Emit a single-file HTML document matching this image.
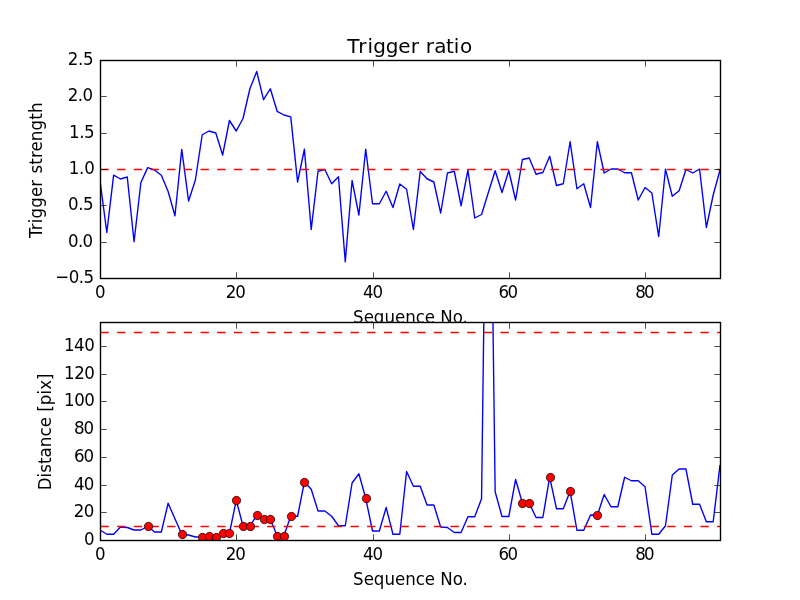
<!DOCTYPE html>
<html lang="en"><head><meta charset="utf-8"><title>Trigger ratio</title>
<style>html,body{margin:0;padding:0;background:#fff;overflow:hidden}svg{display:block}text{font-family:"DejaVu Sans","Liberation Sans",sans-serif;fill:#000}</style>
</head><body>
<svg width="800" height="600" viewBox="0 0 800 600">
<rect x="0" y="0" width="800" height="600" fill="#fff"/>
<defs><clipPath id="ct"><rect x="100.5" y="60.5" width="620.0" height="218.0"/></clipPath><clipPath id="cb"><rect x="100.5" y="322.5" width="620.0" height="218.0"/></clipPath></defs>
<g>
<g clip-path="url(#ct)" fill="none" stroke-linejoin="round">
<polyline points="100.00,180.60 106.81,232.50 113.63,175.20 120.44,179.00 127.25,177.00 134.07,241.75 140.88,182.50 147.69,167.60 154.51,170.00 161.32,175.30 168.13,191.50 174.95,215.75 181.76,149.40 188.57,201.00 195.38,180.00 202.20,134.75 209.01,131.00 215.82,133.00 222.64,155.00 229.45,120.50 236.26,131.00 243.08,118.25 249.89,88.75 256.70,71.50 263.52,99.70 270.33,88.75 277.14,111.30 283.96,115.00 290.77,116.90 297.58,182.00 304.40,149.25 311.21,229.50 318.02,171.25 324.84,169.50 331.65,183.75 338.46,176.75 345.27,261.75 352.09,180.50 358.90,215.00 365.71,149.25 372.53,203.75 379.34,203.75 386.15,191.25 392.97,207.50 399.78,184.00 406.59,189.25 413.41,229.50 420.22,171.50 427.03,178.75 433.85,182.00 440.66,213.00 447.47,173.00 454.29,171.25 461.10,205.75 467.91,170.00 474.73,218.00 481.54,214.50 488.35,192.50 495.16,170.75 501.98,192.50 508.79,170.75 515.60,200.00 522.42,159.50 529.23,158.00 536.04,174.25 542.86,172.50 549.67,156.25 556.48,185.50 563.30,183.75 570.11,141.75 576.92,188.75 583.74,183.75 590.55,207.50 597.36,141.75 604.18,173.00 610.99,169.00 617.80,169.00 624.62,172.75 631.43,172.75 638.24,200.00 645.05,187.50 651.87,193.00 658.68,236.50 665.49,169.25 672.31,196.25 679.12,190.75 685.93,169.50 692.75,173.00 699.56,169.00 706.37,227.50 713.19,195.00 720.00,170.00" stroke="#0000ff" stroke-width="1.389"/>
<line x1="100.5" y1="169.50" x2="720.5" y2="169.50" stroke="#ff0000" stroke-width="1.389" stroke-dasharray="8.333 8.333"/>
</g>
<path d="M100.50 278.5v-6.2M100.50 60.5v6.2M236.50 278.5v-6.2M236.50 60.5v6.2M373.50 278.5v-6.2M373.50 60.5v6.2M509.50 278.5v-6.2M509.50 60.5v6.2M645.50 278.5v-6.2M645.50 60.5v6.2M100.5 278.50h6.2M720.5 278.50h-6.2M100.5 242.50h6.2M720.5 242.50h-6.2M100.5 205.50h6.2M720.5 205.50h-6.2M100.5 169.50h6.2M720.5 169.50h-6.2M100.5 133.50h6.2M720.5 133.50h-6.2M100.5 96.50h6.2M720.5 96.50h-6.2M100.5 60.50h6.2M720.5 60.50h-6.2" stroke="#000" stroke-width="0.7" fill="none"/>
<rect x="100.5" y="60.5" width="620.0" height="218.0" fill="none" stroke="#000" stroke-width="1.389"/>
<text transform="translate(95.02 298.00) scale(1 1.08)" font-size="16.667" letter-spacing="0.000">0</text>
<text transform="translate(225.85 298.00) scale(1 1.08)" font-size="16.667" letter-spacing="-1.075">20</text>
<text transform="translate(363.08 298.00) scale(1 1.08)" font-size="16.667" letter-spacing="-1.150">40</text>
<text transform="translate(498.53 298.00) scale(1 1.08)" font-size="16.667" letter-spacing="-1.500">60</text>
<text transform="translate(635.23 298.00) scale(1 1.08)" font-size="16.667" letter-spacing="-1.900">80</text>
<text transform="translate(55.30 283.00) scale(1 1.08)" font-size="16.667" letter-spacing="-0.583">−0.5</text>
<text transform="translate(67.92 247.00) scale(1 1.08)" font-size="16.667" letter-spacing="-0.625">0.0</text>
<text transform="translate(67.92 210.00) scale(1 1.08)" font-size="16.667" letter-spacing="-0.387">0.5</text>
<text transform="translate(68.67 174.00) scale(1 1.08)" font-size="16.667" letter-spacing="-0.200">1.0</text>
<text transform="translate(68.97 138.00) scale(1 1.08)" font-size="16.667" letter-spacing="-0.412">1.5</text>
<text transform="translate(67.80 101.00) scale(1 1.08)" font-size="16.667" letter-spacing="-0.562">2.0</text>
<text transform="translate(67.80 65.00) scale(1 1.08)" font-size="16.667" letter-spacing="-0.375">2.5</text>
<text transform="translate(347.35 52.90) scale(1 0.97)" font-size="20.0" letter-spacing="0.192" dx="0 1.5 0.75 0 -0.4 -0.35 0 0 0 0 -0.5 -0.5 0.5">Trigger ratio</text>
<text transform="translate(353.12 323.10) scale(1 1.08)" font-size="16.667" letter-spacing="-0.034">Sequence No.</text>
<text transform="translate(42.10 238.05) rotate(-90) scale(1 1.08)" font-size="16.667" letter-spacing="0.125" dx="0 0 0 0 0 0 0 0 0.7 0 0 0 0 0 0 0">Trigger strength</text>
</g>
<g>
<rect x="100.0" y="321.82" width="620.0" height="218.18" fill="#fff"/>
<g clip-path="url(#cb)" fill="none" stroke-linejoin="round">
<polyline points="100.00,530.00 106.81,534.25 113.63,534.25 120.44,527.00 127.25,527.50 134.07,530.00 140.88,530.00 147.69,526.25 154.51,532.00 161.32,532.00 168.13,503.25 174.95,518.75 181.76,534.25 188.57,535.00 195.38,537.00 202.20,537.00 209.01,536.40 215.82,536.50 222.64,533.25 229.45,533.25 236.26,500.25 243.08,526.25 249.89,526.25 256.70,515.25 263.52,519.25 270.33,519.40 277.14,535.50 283.96,535.50 290.77,516.25 297.58,516.25 304.40,482.00 311.21,489.25 318.02,511.00 324.84,511.00 331.65,516.25 338.46,525.75 345.27,525.75 352.09,483.00 358.90,473.75 365.71,498.25 372.53,531.00 379.34,531.00 386.15,507.50 392.97,534.25 399.78,534.25 406.59,471.50 413.41,486.25 420.22,486.25 427.03,505.00 433.85,505.00 440.66,527.00 447.47,527.50 454.29,532.50 461.10,532.50 467.91,516.75 474.73,516.75 481.54,498.75 488.35,-30.00 495.16,491.75 501.98,516.50 508.79,516.50 515.60,479.50 522.42,503.00 529.23,503.00 536.04,517.50 542.86,517.50 549.67,477.20 556.48,508.75 563.30,508.75 570.11,491.30 576.92,530.25 583.74,530.25 590.55,515.00 597.36,515.25 604.18,494.50 610.99,506.75 617.80,506.75 624.62,477.25 631.43,480.75 638.24,480.75 645.05,486.75 651.87,534.25 658.68,534.25 665.49,525.75 672.31,475.00 679.12,469.00 685.93,469.00 692.75,504.25 699.56,504.25 706.37,521.75 713.19,521.75 720.00,465.00" stroke="#0000ff" stroke-width="1.389"/>
<line x1="100.5" y1="526.50" x2="720.5" y2="526.50" stroke="#ff0000" stroke-width="1.389" stroke-dasharray="8.333 8.333"/>
<line x1="100.5" y1="332.50" x2="720.5" y2="332.50" stroke="#ff0000" stroke-width="1.389" stroke-dasharray="8.333 8.333"/>
<g fill="#ff0000" stroke="#000" stroke-width="0.7">
<circle cx="148.5" cy="526.5" r="4.17"/>
<circle cx="182.5" cy="534.5" r="4.17"/>
<circle cx="202.5" cy="537.5" r="4.17"/>
<circle cx="209.5" cy="536.5" r="4.17"/>
<circle cx="216.5" cy="537.5" r="4.17"/>
<circle cx="223.5" cy="533.5" r="4.17"/>
<circle cx="229.5" cy="533.5" r="4.17"/>
<circle cx="236.5" cy="500.5" r="4.17"/>
<circle cx="243.5" cy="526.5" r="4.17"/>
<circle cx="250.5" cy="526.5" r="4.17"/>
<circle cx="257.5" cy="515.5" r="4.17"/>
<circle cx="264.5" cy="519.5" r="4.17"/>
<circle cx="270.5" cy="519.5" r="4.17"/>
<circle cx="277.5" cy="536.5" r="4.17"/>
<circle cx="284.5" cy="536.5" r="4.17"/>
<circle cx="291.5" cy="516.5" r="4.17"/>
<circle cx="304.5" cy="482.5" r="4.17"/>
<circle cx="366.5" cy="498.5" r="4.17"/>
<circle cx="522.5" cy="503.5" r="4.17"/>
<circle cx="529.5" cy="503.5" r="4.17"/>
<circle cx="550.5" cy="477.5" r="4.17"/>
<circle cx="570.5" cy="491.5" r="4.17"/>
<circle cx="597.5" cy="515.5" r="4.17"/>
</g>
</g>
<path d="M100.50 540.5v-6.2M100.50 322.5v6.2M236.50 540.5v-6.2M236.50 322.5v6.2M373.50 540.5v-6.2M373.50 322.5v6.2M509.50 540.5v-6.2M509.50 322.5v6.2M645.50 540.5v-6.2M645.50 322.5v6.2M100.5 540.50h6.2M720.5 540.50h-6.2M100.5 512.50h6.2M720.5 512.50h-6.2M100.5 485.50h6.2M720.5 485.50h-6.2M100.5 457.50h6.2M720.5 457.50h-6.2M100.5 429.50h6.2M720.5 429.50h-6.2M100.5 401.50h6.2M720.5 401.50h-6.2M100.5 374.50h6.2M720.5 374.50h-6.2M100.5 346.50h6.2M720.5 346.50h-6.2" stroke="#000" stroke-width="0.7" fill="none"/>
<rect x="100.5" y="322.5" width="620.0" height="218.0" fill="none" stroke="#000" stroke-width="1.389"/>
<text transform="translate(95.02 560.00) scale(1 1.08)" font-size="16.667" letter-spacing="0.000">0</text>
<text transform="translate(225.85 560.00) scale(1 1.08)" font-size="16.667" letter-spacing="-1.075">20</text>
<text transform="translate(363.08 560.00) scale(1 1.08)" font-size="16.667" letter-spacing="-1.150">40</text>
<text transform="translate(498.53 560.00) scale(1 1.08)" font-size="16.667" letter-spacing="-1.500">60</text>
<text transform="translate(635.23 560.00) scale(1 1.08)" font-size="16.667" letter-spacing="-1.900">80</text>
<text transform="translate(84.02 545.00) scale(1 1.08)" font-size="16.667" letter-spacing="0.000">0</text>
<text transform="translate(73.85 517.00) scale(1 1.08)" font-size="16.667" letter-spacing="-0.725">20</text>
<text transform="translate(73.88 490.00) scale(1 1.08)" font-size="16.667" letter-spacing="-0.750">40</text>
<text transform="translate(73.97 462.00) scale(1 1.08)" font-size="16.667" letter-spacing="-0.950">60</text>
<text transform="translate(73.97 434.00) scale(1 1.08)" font-size="16.667" letter-spacing="-0.950">80</text>
<text transform="translate(64.07 406.00) scale(1 1.08)" font-size="16.667" letter-spacing="-0.525">100</text>
<text transform="translate(64.07 379.00) scale(1 1.08)" font-size="16.667" letter-spacing="-0.525">120</text>
<text transform="translate(63.97 351.00) scale(1 1.08)" font-size="16.667" letter-spacing="-0.475">140</text>
<text transform="translate(353.12 585.10) scale(1 1.08)" font-size="16.667" letter-spacing="-0.034">Sequence No.</text>
<text transform="translate(50.70 490.27) rotate(-90) scale(1 1.08)" font-size="16.667" letter-spacing="0.052">Distance [pix]</text>
</g>
</svg></body></html>
